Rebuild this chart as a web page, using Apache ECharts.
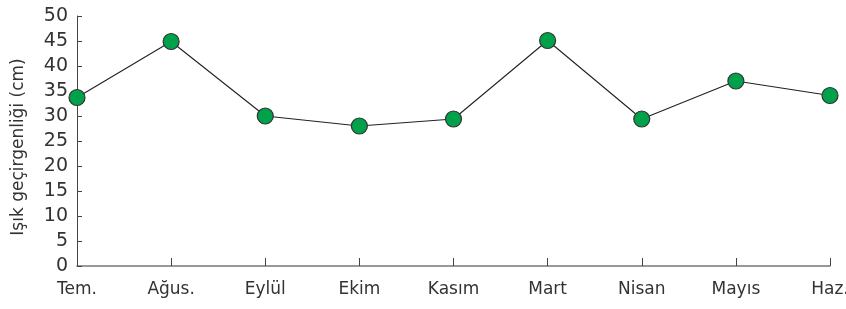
<!DOCTYPE html>
<html><head><meta charset="utf-8">
<script src="https://cdn.jsdelivr.net/npm/echarts@6/dist/echarts.min.js"></script>
<style>html,body{margin:0;padding:0;background:#fff}#c{width:846px;height:309px}</style>
</head><body><div id="c"></div>
<script>
var categories = ['Tem.', 'Ağus.', 'Eylül', 'Ekim', 'Kasım', 'Mart', 'Nisan', 'Mayıs', 'Haz.'];
var values = [33.7, 44.9, 30.0, 28.0, 29.4, 45.1, 29.4, 37.0, 34.1];
var yTicks = [0, 5, 10, 15, 20, 25, 30, 35, 40, 45, 50];
var chart = echarts.init(document.getElementById('c'));
chart.setOption({
  animation: false,
  grid: {left: 77, right: 16, top: 16, bottom: 43, outerBoundsMode: 'none', containLabel: false},
  xAxis: {
    type: 'category', data: categories, boundaryGap: false,
    axisLine: {lineStyle: {color: '#777', width: 1.5}},
    axisTick: {inside: true, length: 8, lineStyle: {color: '#444'}},
    axisLabel: {color: '#333', fontSize: 17, fontFamily: 'DejaVu Sans', margin: 15}
  },
  yAxis: {
    type: 'value', min: yTicks[0], max: yTicks[yTicks.length - 1], interval: 5,
    name: 'Işık geçirgenliği (cm)', nameLocation: 'middle', nameGap: 50,
    nameTextStyle: {color: '#333', fontSize: 17, fontFamily: 'DejaVu Sans', padding: [0, 12, 0, 0]},
    axisLine: {show: true, lineStyle: {color: '#444', width: 1}},
    axisTick: {show: true, inside: true, length: 5, lineStyle: {color: '#444'}},
    splitLine: {show: false},
    axisLabel: {color: '#333', fontSize: 19, fontFamily: 'DejaVu Sans', margin: 9}
  },
  series: [{
    type: 'line', data: values, symbol: 'circle', symbolSize: 16,
    lineStyle: {color: '#222', width: 1.1},
    itemStyle: {color: '#00a14b', borderColor: '#333', borderWidth: 1.2}
  }]
});
</script></body></html>
